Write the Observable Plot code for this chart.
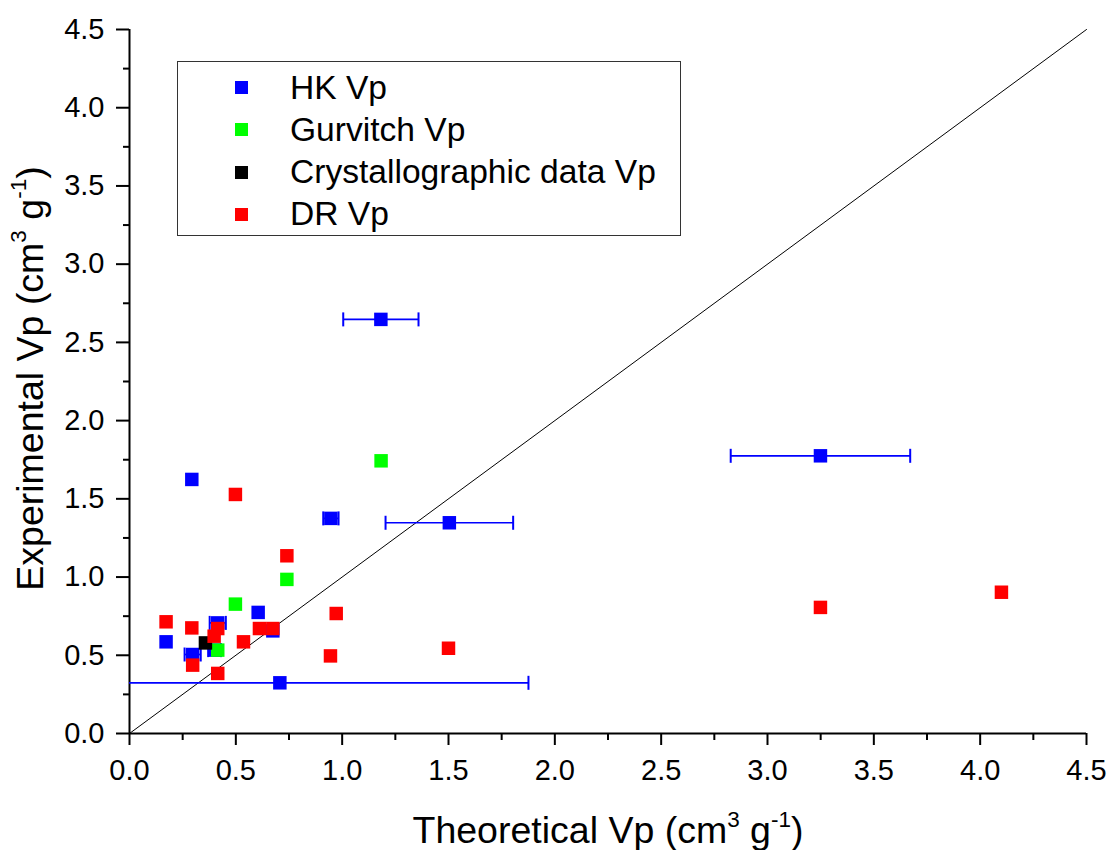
<!DOCTYPE html>
<html>
<head>
<meta charset="utf-8">
<script src="https://cdn.jsdelivr.net/npm/d3@7"></script>
<script src="https://cdn.jsdelivr.net/npm/@observablehq/plot@0.6"></script>
<style>
  body { margin: 0; background: #fff; font-family: "Liberation Sans", Arial, sans-serif; }
  #wrap { position: relative; width: 1110px; height: 850px; overflow: hidden; }
  #legend { position: absolute; left: 177px; top: 61px; width: 502px; height: 173px; border: 1.5px solid #333; background: #fff; }
  .sw { position: absolute; width: 13px; height: 13px; left: 57px; }
  .lab { position: absolute; left: 112px; font-size: 33.6px; line-height: 40px; white-space: nowrap; color: #000; }
  .title { position: absolute; font-size: 37.5px; line-height: 37px; white-space: nowrap; text-align: center; color: #000; }
  .title sup { font-size: 0.6em; vertical-align: 0.72em; line-height: 0; }
  #xtitle { left: 208px; width: 800px; top: 812px; }
  #ytitle { left: -270px; width: 600px; top: 360px; transform: rotate(-90deg); }
</style>
</head>
<body>
<div id="wrap">
  <div id="chart"></div>
  <div id="legend"></div>
  <div id="xtitle" class="title">Theoretical Vp (cm<sup>3</sup> g<sup>-1</sup>)</div>
  <div id="ytitle" class="title">Experimental Vp (cm<sup>3</sup> g<sup>-1</sup>)</div>
</div>
<script>
// ---- data ----
const seriesNames = ["HK Vp", "Gurvitch Vp", "Crystallographic data Vp", "DR Vp"];
const seriesColors = ["#0000ff", "#00ff00", "#000000", "#ff0000"];

const hkX    = [0.172, 0.297, 0.415, 0.400, 0.605, 0.674, 0.707, 0.293, 0.947, 1.182, 1.504, 3.249];
const hkY    = [0.586, 0.505, 0.707, 0.533, 0.774, 0.656, 0.324, 1.624, 1.375, 2.647, 1.347, 1.775];
const hkXerr = [0,     0.038, 0.038, 0.030, 0,     0,     1.169, 0,     0.036, 0.177, 0.300, 0.422];

const gurX = [0.415, 0.498, 0.740, 1.183];
const gurY = [0.533, 0.827, 0.985, 1.743];

const cryX = [0.357];
const cryY = [0.579];

const drX = [0.172, 0.293, 0.415, 0.398, 0.297, 0.415, 0.536, 0.611, 0.674, 0.972, 0.945, 0.740, 0.498, 1.500, 3.249, 4.100];
const drY = [0.714, 0.675, 0.671, 0.622, 0.437, 0.384, 0.586, 0.671, 0.671, 0.767, 0.496, 1.136, 1.528, 0.545, 0.806, 0.903];

const majorTicks = [0.0, 0.5, 1.0, 1.5, 2.0, 2.5, 3.0, 3.5, 4.0, 4.5];
const minorTicks = [0.25, 0.75, 1.25, 1.75, 2.25, 2.75, 3.25, 3.75, 4.25];
const diagonal = [0, 4.5];

// ---- tables ----
const zipPts = (xs, ys, es) => xs.map((x, i) => ({x, y: ys[i], e: es ? es[i] : 0}));
const hk = zipPts(hkX, hkY, hkXerr);
const hkErr = hk.filter(d => d.e > 0);
const gur = zipPts(gurX, gurY);
const cry = zipPts(cryX, cryY);
const dr = zipPts(drX, drY);

const cap = { draw(ctx) { ctx.moveTo(0, -7); ctx.lineTo(0, 7); } };
const R = 7.6;

const chart = Plot.plot({
  width: 1110,
  height: 850,
  marginLeft: 129,
  marginRight: 24,
  marginTop: 29,
  marginBottom: 117,
  x: {domain: [0, 4.5]},
  y: {domain: [0, 4.5]},
  style: {fontFamily: '"Liberation Sans", Arial, sans-serif', color: "black", background: "white", overflow: "visible"},
  marks: [
    Plot.axisX({ticks: majorTicks, tickSize: 12, tickPadding: 14, tickFormat: d => d.toFixed(1), fontSize: 29, strokeWidth: 2, label: null}),
    Plot.axisX({ticks: minorTicks, tickSize: 7, tickFormat: () => "", strokeWidth: 2, label: null}),
    Plot.axisY({ticks: majorTicks, tickSize: 13, tickPadding: 12, tickFormat: d => d.toFixed(1), fontSize: 29, strokeWidth: 2, label: null}),
    Plot.axisY({ticks: minorTicks, tickSize: 6, tickFormat: () => "", strokeWidth: 2, label: null}),
    Plot.ruleX([0], {stroke: "black", strokeWidth: 2}),
    Plot.ruleY([0], {stroke: "black", strokeWidth: 2}),
    Plot.line(diagonal, {x: d => d, y: d => d, stroke: "black", strokeWidth: 1}),
    Plot.link(hkErr, {x1: d => d.x - d.e, x2: d => d.x + d.e, y1: "y", y2: "y", stroke: "#0000ff", strokeWidth: 1.7, clip: true}),
    Plot.dot(hkErr, {x: d => d.x - d.e, y: "y", symbol: cap, stroke: "#0000ff", strokeWidth: 2, fill: "none", clip: true}),
    Plot.dot(hkErr, {x: d => d.x + d.e, y: "y", symbol: cap, stroke: "#0000ff", strokeWidth: 2, fill: "none", clip: true}),
    Plot.dot(hk, {x: "x", y: "y", symbol: "square", r: R, fill: seriesColors[0]}),
    Plot.dot(gur, {x: "x", y: "y", symbol: "square", r: R, fill: seriesColors[1]}),
    Plot.dot(cry, {x: "x", y: "y", symbol: "square", r: R, fill: seriesColors[2]}),
    Plot.dot(dr, {x: "x", y: "y", symbol: "square", r: R, fill: seriesColors[3]})
  ]
});
document.getElementById("chart").appendChild(chart);

// ---- legend ----
const legend = document.getElementById("legend");
seriesNames.forEach((name, i) => {
  const cy = 25.5 + i * 42.3;
  const sw = document.createElement("div");
  sw.className = "sw";
  sw.style.top = (cy - 6.5) + "px";
  sw.style.background = seriesColors[i];
  legend.appendChild(sw);
  const lab = document.createElement("div");
  lab.className = "lab";
  lab.style.top = (cy - 20) + "px";
  lab.textContent = name;
  legend.appendChild(lab);
});
</script>
</body>
</html>
